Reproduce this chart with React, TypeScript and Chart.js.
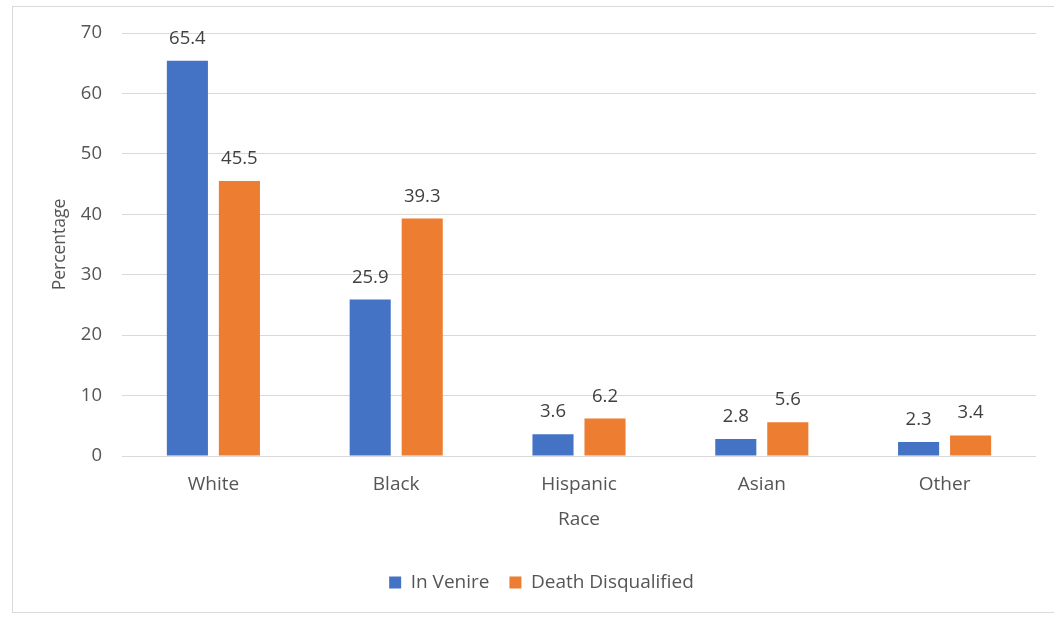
import React, { useEffect, useRef } from "react";
import { Chart, registerables } from "chart.js";

Chart.register(...registerables);

const categories = ["White", "Black", "Hispanic", "Asian", "Other"];
const inVenire = [65.4, 25.9, 3.6, 2.8, 2.3];
const deathDisqualified = [45.5, 39.3, 6.2, 5.6, 3.4];
const seriesNames = ["In Venire", "Death Disqualified"];
const yTicks = [0, 10, 20, 30, 40, 50, 60, 70];

const FONT = "'Open Sans', 'DejaVu Sans', sans-serif";
const TEXT = "#555555";

const valueLabels = {
  id: "valueLabels",
  afterDatasetsDraw(chart: any) {
    const ctx = chart.ctx;
    ctx.save();
    ctx.font = `18.5px ${FONT}`;
    ctx.fillStyle = "#404040";
    ctx.textAlign = "center";
    ctx.textBaseline = "bottom";
    chart.data.datasets.forEach((ds: any, i: number) => {
      const meta = chart.getDatasetMeta(i);
      meta.data.forEach((bar: any, j: number) => {
        ctx.fillText(Number(ds.data[j]).toFixed(1), bar.x, bar.y - 13);
      });
    });
    ctx.restore();
  },
};

export default function App() {
  const ref = useRef<HTMLCanvasElement>(null);
  useEffect(() => {
    const chart = new Chart(ref.current!, {
      type: "bar",
      data: {
        labels: categories,
        datasets: [
          { label: seriesNames[0], data: inVenire, backgroundColor: "#4472C4" },
          { label: seriesNames[1], data: deathDisqualified, backgroundColor: "#ED7D31" },
        ],
      },
      options: {
        animation: false,
        responsive: false,
        maintainAspectRatio: false,
        layout: { padding: { left: 34, right: 18, top: 26, bottom: 11 } },
        datasets: {
          bar: { categoryPercentage: 0.569, barPercentage: 0.79 },
        },
        plugins: {
          tooltip: { enabled: false },
          legend: {
            position: "bottom",
            labels: {
              boxWidth: 12,
              boxHeight: 12,
              padding: 20,
              color: TEXT,
              font: { family: FONT, size: 19 },
            },
          },
        },
        scales: {
          x: {
            grid: { display: false, drawTicks: false },
            border: { display: false },
            ticks: { color: TEXT, font: { family: FONT, size: 19 }, padding: 17 },
            title: {
              display: true,
              text: "Race",
              color: TEXT,
              font: { family: FONT, size: 19 },
              padding: { top: 0, bottom: 22 },
            },
            afterFit: (axis: any) => {
              axis.height = 97;
            },
          },
          y: {
            min: 0,
            max: 70,
            afterBuildTicks: (axis: any) => {
              axis.ticks = yTicks.map((v) => ({ value: v }));
            },
            grid: { color: "#d9d9d9", lineWidth: 1, drawTicks: false },
            border: { display: false },
            ticks: { color: TEXT, font: { family: FONT, size: 18.5 }, padding: 20 },
            title: {
              display: true,
              text: "Percentage",
              color: TEXT,
              font: { family: FONT, size: 17.5 },
              padding: { top: 3, bottom: 0 },
            },
            afterFit: (axis: any) => {
              axis.width = 75;
              axis.paddingTop = 0;
              axis.paddingBottom = 0;
            },
          },
        },
      },
      plugins: [valueLabels],
    });
    return () => chart.destroy();
  }, []);

  return (
    <div
      style={{
        position: "absolute",
        left: 0,
        top: 0,
        width: 1054,
        height: 617,
        background: "#fff",
      }}
    >
      <div
        style={{
          position: "absolute",
          left: 12,
          top: 6,
          width: 1050,
          height: 607,
          border: "1px solid #d9d9d9",
          boxSizing: "border-box",
        }}
      />
      <canvas
        ref={ref}
        width={1041}
        height={606}
        style={{ position: "absolute", left: 13, top: 7, width: 1041, height: 606 }}
      />
    </div>
  );
}
